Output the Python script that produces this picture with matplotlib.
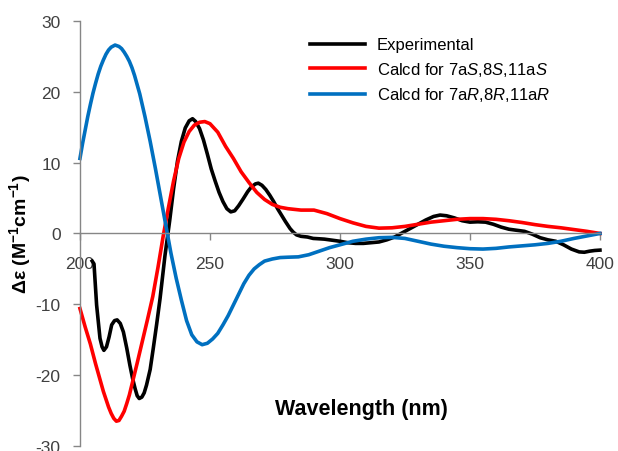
import matplotlib
matplotlib.use("Agg")
import matplotlib.pyplot as plt

plt.rcParams['font.family'] = ['Liberation Sans', 'DejaVu Sans']
plt.rcParams['mathtext.fontset'] = 'custom'
plt.rcParams['mathtext.rm'] = 'Liberation Sans'
plt.rcParams['mathtext.it'] = 'Liberation Sans:italic'
plt.rcParams['mathtext.bf'] = 'Liberation Sans:bold'
plt.rcParams['axes.unicode_minus'] = False

# measured ECD spectrum (nm, delta epsilon)
exp_wl = [204.7, 205.4, 206.4, 207.7, 208.5, 209.2, 210.2, 211.2, 212.2, 213.3,
          214.3, 215.5, 216.7, 218.0, 219.2, 220.2, 221.2, 222.0, 222.8, 223.8,
          224.7, 225.6, 227.0, 228.2, 229.5, 230.8, 232.7, 234.5, 236.0, 237.5,
          239.0, 240.5, 242.0, 243.3, 244.5, 246.0, 247.5, 249.0, 250.5, 252.0,
          253.5, 255.0, 256.5, 258.0, 259.5, 261.0, 262.8, 264.5, 266.0, 267.5,
          268.6, 270.0, 271.5, 273.0, 274.5, 276.0, 277.5, 279.0, 280.8, 282.0,
          283.3, 285.0, 287.5, 289.7, 292.0, 294.0, 297.0, 300.0, 303.0, 306.0,
          309.0, 312.0, 315.0, 318.0, 321.0, 324.0, 327.0, 330.0, 333.0, 336.0,
          338.5, 341.0, 344.0, 347.0, 350.0, 353.0, 356.0, 359.0, 362.0, 365.0,
          368.0, 371.0, 374.0, 377.0, 380.0, 383.0, 386.0, 389.0, 392.0, 394.0,
          396.0, 398.0, 400.0]
exp_de = [-3.9, -4.3, -10.1, -14.8, -16.0, -16.5, -16.0, -14.6, -12.9, -12.3,
          -12.2, -12.7, -13.9, -16.2, -18.6, -20.4, -21.9, -22.9, -23.3, -23.1,
          -22.5, -21.4, -19.2, -16.2, -12.8, -9.2, -3.1, 1.8, 6.3, 10.2,
          13.0, 14.9, 15.9, 16.2, 15.8, 14.8, 13.2, 11.2, 9.1, 7.4,
          5.8, 4.5, 3.5, 3.05, 3.2, 3.9, 4.9, 5.9, 6.6, 7.0,
          7.1, 6.8, 6.2, 5.4, 4.5, 3.5, 2.6, 1.7, 0.7, 0.2,
          -0.2, -0.4, -0.5, -0.7, -0.75, -0.8, -0.95, -1.1, -1.3, -1.4,
          -1.4, -1.3, -1.2, -0.9, -0.5, 0.1, 0.7, 1.3, 1.9, 2.4,
          2.6, 2.5, 2.2, 1.8, 1.6, 1.65, 1.6, 1.3, 0.9, 0.6,
          0.45, 0.3, -0.1, -0.6, -0.9, -1.1, -1.6, -2.2, -2.6, -2.65,
          -2.5, -2.4, -2.35]

# calculated spectrum, 7aS,8S,11aS
s_wl = [200, 201, 202, 203, 204, 205, 206, 207, 208, 209,
        210, 211, 212, 213, 214, 215, 216, 217, 218, 219,
        220, 222, 224, 226, 228, 230, 232, 234, 236, 238,
        240, 242, 244, 246, 248, 250, 253, 256, 259, 262,
        265, 268, 271, 274, 277, 280, 285, 290, 295, 300,
        305, 310, 315, 320, 325, 330, 335, 340, 345, 350,
        355, 360, 365, 370, 375, 380, 385, 390, 395, 400]
s_de = [-10.6, -11.9, -13.2, -14.4, -15.6, -17.0, -18.4, -19.7, -21.0, -22.3,
        -23.4, -24.5, -25.4, -26.1, -26.5, -26.4, -25.8, -25.1, -24.0, -22.8,
        -21.3, -18.3, -15.2, -12.1, -8.9, -4.8, -0.4, 3.6, 7.4, 10.6,
        12.9, 14.4, 15.3, 15.7, 15.8, 15.5, 14.3, 12.3, 10.6, 8.7,
        7.2, 5.8, 4.8, 4.1, 3.7, 3.5, 3.3, 3.3, 2.8, 2.1,
        1.5, 1.0, 0.75, 0.8, 1.0, 1.3, 1.6, 1.8, 2.0, 2.1,
        2.1, 2.0, 1.8, 1.55, 1.25, 1.0, 0.8, 0.55, 0.3, 0.0]

# calculated spectrum, 7aR,8R,11aR
r_wl = [200, 201, 202, 203, 204, 205, 206, 207, 208, 209,
        210, 211, 212, 213.5, 215, 216, 217, 218, 219, 220,
        221, 223, 225, 227, 229, 231, 233, 235, 237,
        239, 241, 243, 245, 247, 249, 251, 253, 255, 257,
        259, 261, 263, 265, 267, 269, 271, 274, 277, 280,
        284, 288, 292, 296, 300, 305, 310, 315, 320, 325,
        330, 335, 340, 345, 350, 355, 360, 365, 370, 375,
        380, 385, 390, 395, 400]
r_de = [10.6, 12.7, 14.6, 16.5, 18.2, 19.8, 21.2, 22.5, 23.6, 24.5,
        25.3, 25.9, 26.3, 26.6, 26.4, 26.1, 25.6, 25.0, 24.3, 23.4,
        22.3, 19.7, 16.5, 13.0, 9.2, 5.2, 1.2, -2.8, -6.3,
        -9.4, -12.3, -14.3, -15.3, -15.7, -15.5, -14.9, -14.1, -12.9, -11.6,
        -10.1, -8.6, -7.1, -5.9, -5.0, -4.4, -3.9, -3.6, -3.4, -3.35,
        -3.3, -3.0, -2.5, -2.0, -1.6, -1.1, -0.8, -0.6, -0.55, -0.7,
        -1.1, -1.5, -1.8, -2.0, -2.15, -2.2, -2.1, -1.9, -1.75, -1.6,
        -1.4, -1.1, -0.7, -0.35, 0.0]

x_ticks = [200, 250, 300, 350, 400]
y_ticks = [-30, -20, -10, 0, 10, 20, 30]

grey = '#868686'
label_col = '#404040'

fig = plt.figure(figsize=(6.18, 4.52), dpi=100)
ax = fig.add_axes([0.1294, 0.0111, 0.8414, 0.9403])

lw = 2.6
ax.plot(exp_wl, exp_de, color='black', lw=lw, label='Experimental', clip_on=False)
ax.plot(s_wl, s_de, color='#ff0000', lw=lw, clip_on=False,
        label=r'Calcd for 7a$\mathit{S}$,8$\mathit{S}$,11a$\mathit{S}$')
ax.plot(r_wl, r_de, color='#0070c0', lw=lw, clip_on=False,
        label=r'Calcd for 7a$\mathit{R}$,8$\mathit{R}$,11a$\mathit{R}$')

ax.set_xlim(200, 400)
ax.set_ylim(-30, 30)
ax.set_xticks(x_ticks)
ax.set_yticks(y_ticks)

# x axis runs through zero
ax.spines['bottom'].set_position(('data', 0))
ax.spines['top'].set_visible(False)
ax.spines['right'].set_visible(False)
for s in ['bottom', 'left']:
    ax.spines[s].set_color(grey)
    ax.spines[s].set_linewidth(1.0)
ax.tick_params(axis='both', direction='out', length=5, width=1.0, color=grey,
               labelcolor=label_col, labelsize=12.5, pad=9)
ax.tick_params(axis='x', pad=11)

ax.set_ylabel(r'Δε (M$^{\mathbf{-1}}$cm$^{\mathbf{-1}}$)', fontsize=14,
              fontweight='bold', color='black')
ax.yaxis.set_label_coords(-0.09, 0.5)
ax.set_xlabel('Wavelength (nm)', fontsize=15.5, fontweight='bold', va='center')
ax.xaxis.set_label_coords(0.542, 0.088)

ax.legend(loc='upper left', bbox_to_anchor=(0.5016, 0.915), bbox_transform=fig.transFigure,
          frameon=False, fontsize=12, handlelength=3.3, handletextpad=0.7,
          labelspacing=0.45, borderpad=0, borderaxespad=0)

fig.savefig('out.png', dpi=100)
